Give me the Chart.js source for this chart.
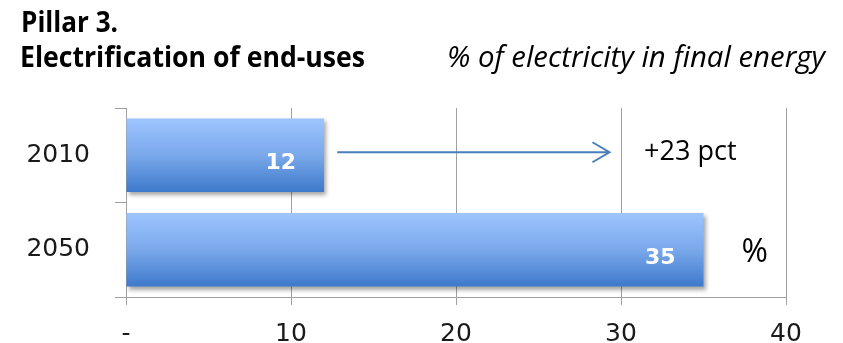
<!DOCTYPE html>
<html>
<head>
<meta charset="utf-8">
<script src="https://cdn.jsdelivr.net/npm/chart.js@4/dist/chart.umd.min.js"></script>
<style>
  html, body { margin:0; padding:0; background:#fff; }
  #wrap { position:relative; width:843px; height:343px; overflow:hidden; }
  #c { position:absolute; left:0; top:0; }
  .t { position:absolute; white-space:nowrap; color:#000; font-family:"Open Sans","Liberation Sans",sans-serif; line-height:28px; transform-origin:0 0; }
  #t1 { left:21px; top:7px; font-size:28px; font-weight:700; }
  #t2 { left:20px; top:42px; font-size:28px; font-weight:700; }
  #t3 { left:447px; top:42px; font-size:29px; font-style:italic; }
</style>
</head>
<body>
<div id="wrap">
  <canvas id="c" width="843" height="343"></canvas>
  <div class="t" id="t1">Pillar 3.</div>
  <div class="t" id="t2">Electrification of end-uses</div>
  <div class="t" id="t3">% of electricity in final energy</div>
</div>
<script>
// ---- data ----
const years = ['2010', '2050'];
const electricityShare = [12, 35];           // % of electricity in final energy
const xTickLabels = ['-', '10', '20', '30', '40'];
const arrowSpan = [12.8, 29.3];              // arrow from/to, in axis units
const unitLabel = '%';

// fit title widths to reference
const targets = { t1: 97, t2: 345, t3: 378 };
for (const id in targets) {
  const el = document.getElementById(id);
  const w = el.getBoundingClientRect().width;
  if (w > 0) el.style.transform = 'scaleX(' + (targets[id] / w) + ')';
}

const gridCol = '#a0a0a0';
const tickFont = { family: 'DejaVu Sans', size: 25 };
const BAR_PCT = 0.78;

function barGradient(context) {
  const chart = context.chart;
  const ys = chart.scales && chart.scales.y;
  if (!ys || !chart.chartArea || context.dataIndex === undefined) return '#6a9ee6';
  const c = ys.getPixelForValue(context.dataIndex);
  const h = (ys.height / chart.data.labels.length) * BAR_PCT;
  const g = chart.ctx.createLinearGradient(0, c - h / 2, 0, c + h / 2);
  g.addColorStop(0, '#9ec5ff');
  g.addColorStop(0.5, '#7aa8ea');
  g.addColorStop(1, '#3d79cb');
  return g;
}

const barStyle = {
  id: 'barStyle',
  beforeDatasetsDraw(chart) {
    const ctx = chart.ctx;
    ctx.save();
    ctx.shadowColor = 'rgba(0,0,0,0.35)';
    ctx.shadowBlur = 4;
    ctx.shadowOffsetX = 2;
    ctx.shadowOffsetY = 3;
  },
  afterDatasetsDraw(chart) {
    const ctx = chart.ctx;
    ctx.restore();
    const xs = chart.scales.x, ys = chart.scales.y;
    // value labels inside bar ends
    ctx.save();
    ctx.fillStyle = '#ffffff';
    ctx.font = 'bold 22px "DejaVu Sans"';
    ctx.textAlign = 'right';
    ctx.textBaseline = 'alphabetic';
    chart.getDatasetMeta(0).data.forEach((el, i) => {
      ctx.fillText(String(electricityShare[i]), el.x - 28, el.y + 14);
    });
    ctx.restore();
    // arrow
    const y0 = ys.getPixelForValue(0) - 3;
    const xa = xs.getPixelForValue(arrowSpan[0]);
    const xb = xs.getPixelForValue(arrowSpan[1]);
    ctx.save();
    ctx.strokeStyle = '#4a7ebb';
    ctx.lineWidth = 2;
    ctx.beginPath();
    ctx.moveTo(xa, y0); ctx.lineTo(xb, y0);
    ctx.moveTo(xb - 17, y0 - 10); ctx.lineTo(xb, y0); ctx.lineTo(xb - 17, y0 + 10);
    ctx.stroke();
    ctx.restore();
    // annotations
    ctx.save();
    ctx.fillStyle = '#000';
    ctx.textAlign = 'left';
    ctx.textBaseline = 'alphabetic';
    ctx.font = '27px "Open Sans", "Liberation Sans", sans-serif';
    const diff = electricityShare[1] - electricityShare[0];
    ctx.fillText('+' + diff + ' pct', xs.getPixelForValue(31.4), ys.getPixelForValue(0) + 5);
    ctx.font = '32px "Open Sans", "Liberation Sans", sans-serif';
    ctx.fillText(unitLabel, xs.getPixelForValue(37.3), ys.getPixelForValue(1) + 12);
    ctx.restore();
  }
};

new Chart(document.getElementById('c'), {
  type: 'bar',
  data: {
    labels: years,
    datasets: [{
      data: electricityShare,
      backgroundColor: barGradient,
      borderWidth: 0,
      barPercentage: BAR_PCT,
      categoryPercentage: 1
    }]
  },
  options: {
    indexAxis: 'y',
    responsive: false,
    animation: false,
    layout: { padding: { top: 108, right: 57, left: 0, bottom: 0 } },
    plugins: { legend: { display: false }, tooltip: { enabled: false }, title: { display: false } },
    scales: {
      x: {
        min: 0, max: 40,
        ticks: { stepSize: 10, callback: (v, i) => xTickLabels[i], font: tickFont, color: '#1a1a1a', padding: 14, maxRotation: 0 },
        grid: { color: gridCol, lineWidth: 1, tickLength: 8 },
        border: { color: gridCol },
        afterFit: s => { s.height = 46; }
      },
      y: {
        ticks: { font: tickFont, color: '#1a1a1a', padding: 25 },
        grid: { offset: true, drawOnChartArea: false, tickLength: 11, color: gridCol },
        border: { color: gridCol },
        afterFit: s => { s.width = 126; }
      }
    }
  },
  plugins: [barStyle]
});
</script>
</body>
</html>
